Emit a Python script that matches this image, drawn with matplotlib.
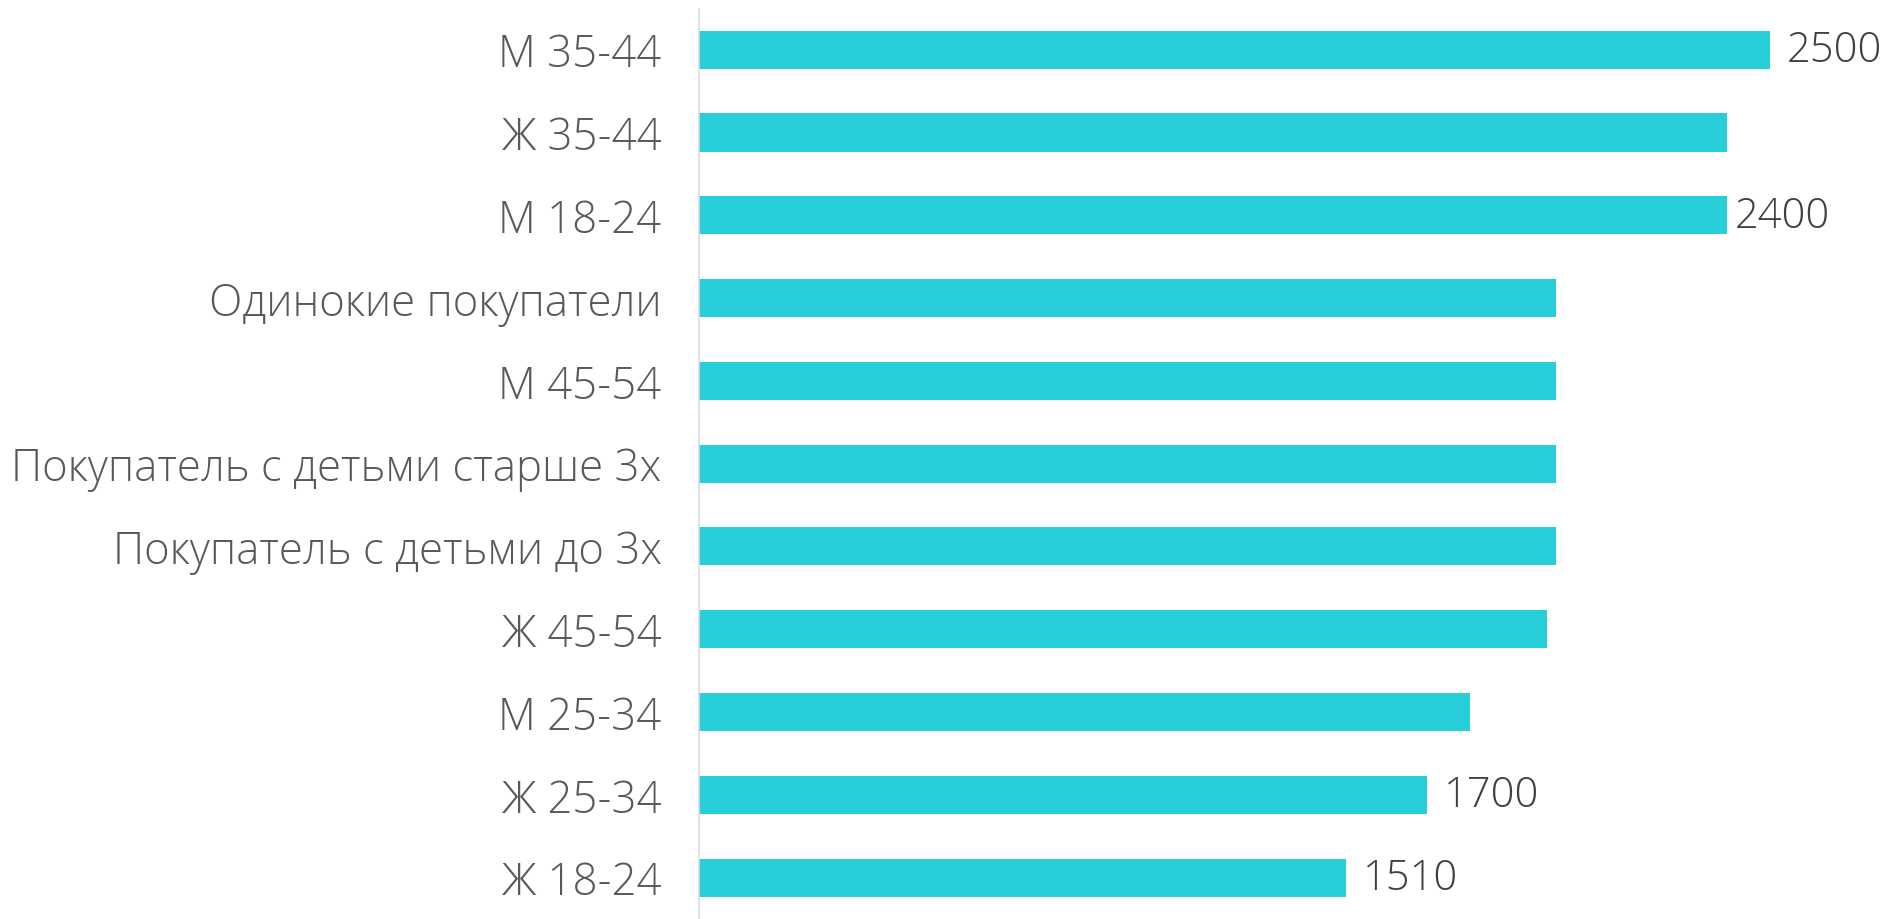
import matplotlib.pyplot as plt

categories = ['М 35-44', 'Ж 35-44', 'М 18-24', 'Одинокие покупатели', 'М 45-54',
              'Покупатель с детьми старше 3х', 'Покупатель с детьми до 3х',
              'Ж 45-54', 'М 25-34', 'Ж 25-34', 'Ж 18-24']
values = [2500, 2400, 2400, 2000, 2000, 2000, 2000, 1980, 1800, 1700, 1510]
# only some bars carry a value label in the original
shown_labels = ['2500', '', '2400', '', '', '', '', '', '', '1700', '1510']

plt.rcParams['font.family'] = ['Open Sans', 'DejaVu Sans']

fig = plt.figure(figsize=(18.91, 9.2), dpi=100)
ax = fig.add_axes([0.3697, 0.0, 0.6303, 0.989])

y = list(range(len(categories)))
bars = ax.barh(y, values, height=0.46, color='#29CFD8')

ax.set_xlim(0, 2782)
ax.set_ylim(len(categories) - 0.5, -0.49)

ax.set_yticks(y)
ax.set_yticklabels(categories, fontsize=31.5, color='#595959', fontweight='light')
ax.tick_params(axis='y', length=0, pad=27)
ax.set_xticks([])

for s in ['top', 'right', 'bottom']:
    ax.spines[s].set_visible(False)
ax.spines['left'].set_color('#D9D9D9')
ax.spines['left'].set_linewidth(1.2)

for rect, lab in zip(bars, shown_labels):
    if not lab:
        continue
    off = 5 if lab == '2400' else 12
    ax.annotate(lab, xy=(rect.get_width(), rect.get_y() + rect.get_height() / 2),
                xytext=(off, 0), textcoords='offset points',
                ha='left', va='center', fontsize=30, color='#404040', fontweight='light')

plt.savefig('out.png', dpi=100)
